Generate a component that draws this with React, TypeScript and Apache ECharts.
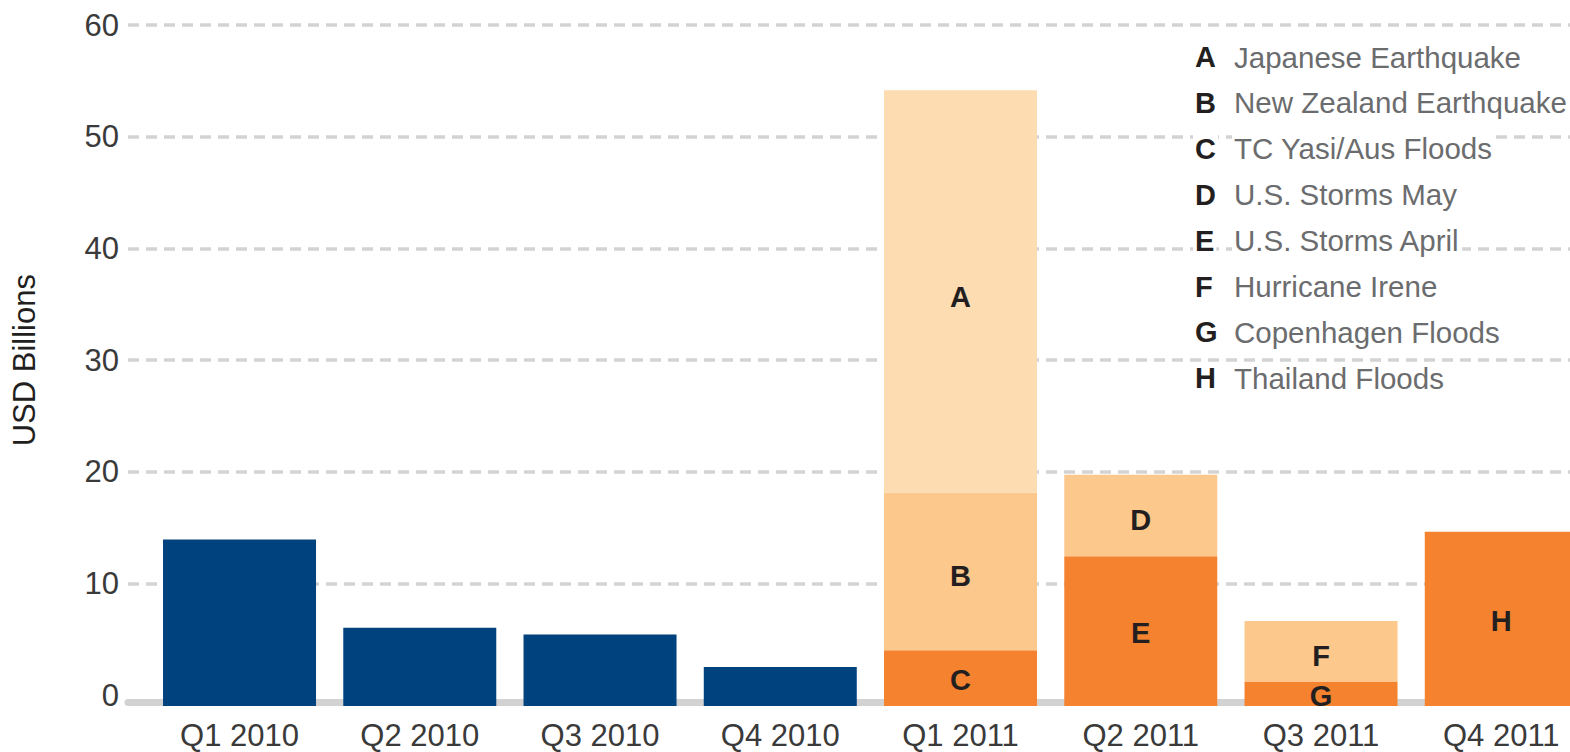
import React, { useEffect, useRef } from "react";
import * as echarts from "echarts";

// ---- data ----
const categories = ["Q1 2010", "Q2 2010", "Q3 2010", "Q4 2010", "Q1 2011", "Q2 2011", "Q3 2011", "Q4 2011"];
const losses2010 = [14.9, 7.0, 6.4, 3.5, null, null, null, null];
// 2011 events, stacked bottom -> top
const eventsBase = [null, null, null, null, 5.0, 13.4, 2.2, 15.6]; // C, E, G, H
const eventsMid = [null, null, null, null, 14.1, 7.3, 5.4, null]; // B, D, F
const eventsTop = [null, null, null, null, 36.0, null, null, null]; // A
const baseLetters = ["", "", "", "", "C", "E", "G", "H"];
const midLetters = ["", "", "", "", "B", "D", "F", ""];
const topLetters = ["", "", "", "", "A", "", "", ""];
const legendLetters = ["A", "B", "C", "D", "E", "F", "G", "H"];
const legendNames = [
  "Japanese Earthquake",
  "New Zealand Earthquake",
  "TC Yasi/Aus Floods",
  "U.S. Storms May",
  "U.S. Storms April",
  "Hurricane Irene",
  "Copenhagen Floods",
  "Thailand Floods",
];
const yMin = 0;
const yMax = 60;
const yInterval = 10;
const yAxisTitle = "USD Billions";

const FONT = '"Liberation Sans", Arial, sans-serif';

export default function App() {
  const ref = useRef<HTMLDivElement>(null);

  useEffect(() => {
    if (!ref.current) return;
    const chart = echarts.init(ref.current, null, { renderer: "svg" });

    const barLabel = (letters: string[], dy: number) => ({
      show: true,
      position: "inside",
      offset: [0, dy],
      formatter: (p: any) => letters[p.dataIndex] || "",
      color: "#231f20",
      fontFamily: FONT,
      fontWeight: "bold",
      fontSize: 29,
    });

    const legendGraphics: any[] = [];
    const legendTop = 57;
    const legendStep = 45.9;
    legendLetters.forEach((l, i) => {
      const y = legendTop + i * legendStep;
      legendGraphics.push({
        type: "text",
        x: 1193,
        y,
        z: 100,
        style: {
          text: l,
          font: `bold 29px ${FONT}`,
          fill: "#231f20",
          verticalAlign: "middle",
          align: "left",
          backgroundColor: "#fff",
          padding: [1, 2],
        },
      });
      legendGraphics.push({
        type: "text",
        x: 1232,
        y,
        z: 100,
        style: {
          text: legendNames[i],
          font: `29.5px ${FONT}`,
          fill: "#6b6c6e",
          verticalAlign: "middle",
          align: "left",
          backgroundColor: "#fff",
          padding: [1, 2],
        },
      });
    });

    const option: any = {
      animation: false,
      backgroundColor: "#ffffff",
      grid: [
        // bars
        {
          left: 149.4,
          width: 1442,
          top: 35.6,
          height: 670.4,
          containLabel: false,
          outerBoundsMode: "none",
        },
        // value scale, gridlines and baseline
        {
          left: 128,
          right: 0,
          top: 25,
          bottom: 56.6,
          containLabel: false,
          outerBoundsMode: "none",
        },
      ],
      xAxis: [
        {
          type: "category",
          gridIndex: 0,
          data: categories,
          boundaryGap: true,
          axisLine: { show: false },
          axisTick: { show: false },
          axisLabel: {
            color: "#3a3a3a",
            fontFamily: FONT,
            fontSize: 31,
            margin: 14,
          },
          splitLine: { show: false },
        },
        {
          type: "value",
          gridIndex: 1,
          min: 0,
          max: 1,
          offset: 7,
          axisLine: { show: true, onZero: false, lineStyle: { color: "#d2d2d2", width: 7 } },
          axisTick: { show: false },
          axisLabel: { show: false },
          splitLine: { show: false },
        },
      ],
      yAxis: [
        {
          type: "value",
          gridIndex: 0,
          min: yMin,
          max: yMax,
          show: false,
          splitLine: { show: false },
        },
        {
          type: "value",
          gridIndex: 1,
          min: yMin,
          max: yMax,
          interval: yInterval,
          name: yAxisTitle,
          nameLocation: "middle",
          nameRotate: 90,
          nameGap: 88,
          nameTextStyle: { color: "#231f20", fontFamily: FONT, fontSize: 31 },
          axisLine: { show: false },
          axisTick: { show: false },
          axisLabel: { color: "#3a3a3a", fontFamily: FONT, fontSize: 31, margin: 9 },
          splitLine: {
            show: true,
            showMinLine: false,
            lineStyle: { color: "#d3d3d3", width: 3.5, type: [11, 7] },
          },
        },
      ],
      series: [
        {
          name: "2010",
          type: "bar",
          stack: "total",
          xAxisIndex: 0,
          yAxisIndex: 0,
          barWidth: 153,
          data: losses2010,
          itemStyle: { color: "#00427e" },
        },
        {
          name: "Base events",
          type: "bar",
          stack: "total",
          xAxisIndex: 0,
          yAxisIndex: 0,
          barWidth: 153,
          data: eventsBase,
          itemStyle: { color: "#f4822f" },
          label: barLabel(baseLetters, 2),
        },
        {
          name: "Middle events",
          type: "bar",
          stack: "total",
          xAxisIndex: 0,
          yAxisIndex: 0,
          barWidth: 153,
          data: eventsMid,
          itemStyle: { color: "#fdc88b" },
          label: barLabel(midLetters, 5),
        },
        {
          name: "Top events",
          type: "bar",
          stack: "total",
          xAxisIndex: 0,
          yAxisIndex: 0,
          barWidth: 153,
          data: eventsTop,
          itemStyle: { color: "#fddcb1" },
          label: barLabel(topLetters, 6),
        },
      ],
      graphic: legendGraphics,
    };

    chart.setOption(option);
    return () => chart.dispose();
  }, []);

  return (
    <div
      ref={ref}
      style={{ position: "fixed", left: 0, top: 0, width: 1570, height: 752, background: "#fff" }}
    />
  );
}
